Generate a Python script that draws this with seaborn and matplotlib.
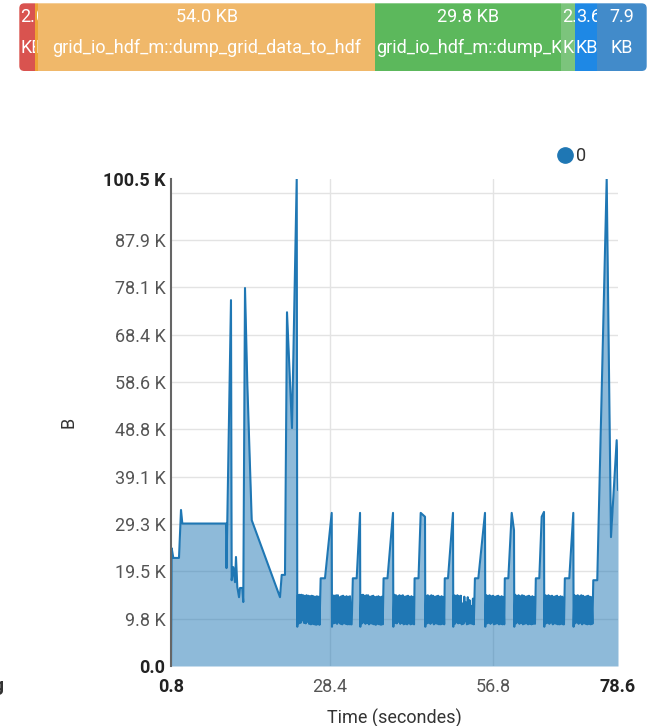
import numpy as np
import pandas as pd
import matplotlib
matplotlib.use("Agg")
import matplotlib.pyplot as plt
import seaborn as sns
from matplotlib.patches import FancyBboxPatch
from matplotlib.lines import Line2D
from matplotlib.transforms import Bbox, TransformedBbox

# ---------------- data ----------------
# memory usage over time (KiB), start-up phase
t_warmup = [0.8, 0.92, 1.20, 2.19, 2.54, 2.77, 10.37, 10.46, 11.24, 11.36, 11.64,
            11.94, 12.11, 12.34, 12.64, 12.81, 13.21, 13.38, 13.68, 14.08, 14.85,
            19.77, 20.07, 20.64, 20.99, 21.86, 22.68]
kib_warmup = [0.0, 24.3, 22.3, 22.3, 32.2, 29.4, 29.4, 20.2, 75.5, 17.7, 20.4,
              17.3, 22.5, 16.3, 14.2, 16.1, 16.1, 13.2, 78.0, 58.4, 30.1,
              14.2, 18.8, 18.8, 73.0, 49.1, 100.5]

# periodic output cycles: release, working set, staging plateau, write peak
t_steady = [
    22.78,
    22.90, 23.05, 23.20, 23.35, 23.50, 23.65, 23.80, 23.95, 24.10, 24.25, 24.40, 24.55, 24.70,
    24.85, 25.00, 25.15, 25.30, 25.45, 25.60, 25.75, 25.90, 26.05, 26.20, 26.35, 26.50, 26.65,
    26.85, 27.60, 28.77,
    28.82,
    28.95, 29.10, 29.25, 29.40, 29.55, 29.70, 29.85, 30.00, 30.15, 30.30, 30.45, 30.60,
    30.75, 30.90, 31.05, 31.20, 31.35, 31.50, 31.65, 31.80, 31.95, 32.10, 32.25,
    32.45, 33.12, 33.70,
    33.75,
    33.90, 34.05, 34.20, 34.35, 34.50, 34.65, 34.80, 34.95, 35.10, 35.25, 35.40, 35.55, 35.70,
    35.85, 36.00, 36.15, 36.30, 36.45, 36.60, 36.75, 36.90, 37.05, 37.20, 37.35, 37.50, 37.65,
    37.80, 38.48, 39.44,
    39.50,
    39.65, 39.80, 39.95, 40.10, 40.25, 40.40, 40.55, 40.70, 40.85, 41.00, 41.15, 41.30,
    41.45, 41.60, 41.75, 41.90, 42.05, 42.20, 42.35, 42.50, 42.65, 42.80, 42.95, 43.10,
    43.20, 43.88, 44.26, 45.01,
    45.06,
    45.20, 45.35, 45.50, 45.65, 45.80, 45.95, 46.10, 46.25, 46.40, 46.55, 46.70,
    46.85, 47.00, 47.15, 47.30, 47.45, 47.60, 47.75, 47.90, 48.05, 48.20, 48.35,
    48.45, 49.01, 49.88,
    49.93,
    50.05, 50.20, 50.35, 50.50, 50.65, 50.80, 50.95, 51.10, 51.25, 51.40, 51.55, 51.70,
    51.85, 52.00, 52.15, 52.30, 52.45, 52.60, 52.75, 52.90, 53.05, 53.20, 53.35, 53.50,
    53.70, 54.29, 55.45,
    55.50,
    55.65, 55.80, 55.95, 56.10, 56.25, 56.40, 56.55, 56.70, 56.85, 57.00, 57.15,
    57.30, 57.45, 57.60, 57.75, 57.90, 58.05, 58.20, 58.35, 58.50, 58.65, 58.80,
    58.90, 59.51, 60.10, 60.50,
    60.55,
    60.70, 60.85, 61.00, 61.15, 61.30, 61.45, 61.60, 61.75, 61.90, 62.05, 62.20, 62.35,
    62.50, 62.65, 62.80, 62.95, 63.10, 63.25, 63.40, 63.55, 63.70, 63.85, 64.00, 64.15,
    64.30, 64.90, 65.32, 65.72,
    65.77,
    65.90, 66.05, 66.20, 66.35, 66.50, 66.65, 66.80, 66.95, 67.10, 67.25, 67.40, 67.55,
    67.70, 67.85, 68.00, 68.15, 68.30, 68.45, 68.60, 68.75, 68.90, 69.05, 69.20,
    69.35, 70.12, 70.82,
    70.87,
    71.00, 71.15, 71.30, 71.45, 71.60, 71.75, 71.90, 72.05, 72.20, 72.35, 72.50,
    72.65, 72.80, 72.95, 73.10, 73.25, 73.40, 73.55, 73.70, 73.85, 74.00, 74.15,
    74.30, 74.99,
]
kib_steady = [
    8.1,
    14.6, 8.8, 14.7, 8.9, 14.7, 9.4, 14.6, 8.9, 14.5, 8.8, 14.6, 9.1, 14.5,
    8.7, 14.4, 8.6, 14.5, 8.7, 14.4, 8.6, 14.3, 8.5, 14.4, 8.6, 14.3, 8.5,
    18.1, 18.1, 31.6,
    8.1,
    14.6, 8.8, 14.5, 8.9, 14.6, 8.7, 14.6, 9.0, 14.2, 8.7, 14.4, 8.6,
    14.5, 8.8, 14.3, 8.7, 14.4, 8.6, 14.3, 8.6, 14.4, 8.6, 8.6,
    18.1, 18.1, 31.6,
    8.1,
    14.6, 8.8, 14.7, 9.0, 14.5, 8.7, 14.6, 8.9, 14.6, 8.6, 14.3, 8.8, 14.4,
    8.7, 14.5, 8.6, 14.2, 8.5, 14.3, 8.7, 14.4, 8.6, 14.2, 8.5, 14.3, 8.6,
    18.1, 18.1, 31.6,
    8.1,
    14.7, 8.9, 14.6, 8.8, 14.4, 9.1, 14.6, 8.7, 14.5, 8.9, 14.6, 8.6,
    14.3, 8.7, 14.4, 8.6, 14.5, 8.8, 14.3, 8.6, 14.4, 8.7, 14.2, 8.6,
    18.1, 18.1, 31.6, 30.8,
    8.1,
    14.5, 8.8, 14.6, 8.9, 14.4, 8.7, 14.6, 9.0, 14.5, 8.6, 14.3,
    8.8, 14.4, 8.7, 14.5, 8.6, 14.3, 8.6, 14.4, 8.7, 14.2, 8.6,
    18.1, 18.1, 31.6,
    8.1,
    14.6, 8.7, 14.5, 9.0, 14.6, 8.8, 14.4, 8.9, 14.5, 8.6, 12.9, 8.7,
    14.3, 9.2, 13.1, 8.6, 14.2, 8.7, 13.6, 8.8, 12.4, 8.7, 13.9, 8.6,
    18.1, 18.1, 31.6,
    8.1,
    14.6, 8.8, 14.5, 8.9, 14.6, 8.7, 14.4, 9.0, 14.5, 8.6, 14.3,
    8.7, 14.4, 8.8, 14.5, 8.6, 14.3, 8.7, 14.4, 8.6, 14.2, 8.6,
    18.1, 18.1, 31.6, 28.0,
    8.1,
    14.7, 8.8, 14.5, 9.0, 14.6, 8.7, 14.4, 8.9, 14.6, 8.6, 14.5, 8.7,
    14.3, 8.8, 14.4, 8.6, 14.5, 8.7, 14.3, 8.6, 14.4, 8.7, 14.2, 8.7,
    18.1, 18.1, 30.8, 31.8,
    8.1,
    14.6, 8.8, 14.5, 8.9, 14.6, 8.7, 14.4, 9.0, 14.5, 8.6, 14.3, 8.8,
    14.4, 8.7, 14.5, 8.6, 14.2, 8.6, 14.4, 8.7, 14.3, 8.6, 8.6,
    18.1, 18.1, 31.6,
    8.1,
    14.6, 8.8, 14.5, 9.0, 14.6, 8.7, 14.4, 8.9, 14.6, 8.6, 14.5,
    8.8, 14.3, 8.7, 14.4, 8.6, 14.5, 8.7, 14.3, 8.6, 14.2, 8.7,
    17.7, 17.7,
]

# final write burst
t_burst = [76.63, 77.38, 78.37, 78.60]
kib_burst = [100.5, 26.6, 46.6, 36.3]

# allocation summary strip (KB per call site)
seg_kb = [2.5, 0.5, 54.0, 29.8, 2.2, 3.6, 7.9]
seg_names = ["", "", "grid_io_hdf_m::dump_grid_data_to_hdf",
             "grid_io_hdf_m::dump_K_field_to_hdf", "", "", ""]
seg_colors = ["#d9534f", "#eea236", "#f0b86a", "#5cb85c", "#7cc47c", "#1e88e5", "#428bca"]

x_ticks = [0.8, 28.4, 56.8, 78.6]
series_name = "0"

# ---------------- figure ----------------
sns.set_style("white")
plt.rcParams["font.family"] = ["Roboto", "DejaVu Sans"]

W, H = 648, 726
fig = plt.figure(figsize=(W / 100, H / 100), dpi=100)

line_color = "#1f77b4"

df = pd.DataFrame({
    "t": t_warmup + t_steady + t_burst,
    "kib": kib_warmup + kib_steady + kib_burst,
})
df["bytes"] = df["kib"] * 1024

ax = fig.add_axes([171 / W, 1 - 666 / H, 447 / W, 487 / H])
sns.lineplot(data=df, x="t", y="bytes", ax=ax, color=line_color, lw=1.5,
             estimator=None, zorder=3)
ax.fill_between(df["t"], df["bytes"], color=line_color, alpha=0.5, lw=0, zorder=2)

ymax = df["bytes"].max()
ax.set_xlim(x_ticks[0], x_ticks[-1])
ax.set_ylim(0, ymax)

y_ticks = list(range(0, 100001, 10000)) + [ymax]
y_labels = []
for v in y_ticks:
    if v == 0:
        y_labels.append("0.0")
    elif v == 100000:
        y_labels.append("")
    else:
        y_labels.append(f"{v / 1024:.1f} K")
ax.set_yticks(y_ticks)
ax.set_yticklabels(y_labels)
ax.set_xticks(x_ticks)
ax.set_xticklabels([f"{v:.1f}" for v in x_ticks])

ax.tick_params(axis="both", length=0, labelsize=13, labelcolor="#555555")
ax.tick_params(axis="y", pad=4)
ax.tick_params(axis="x", pad=9)
for lbls in (ax.get_yticklabels(), ax.get_xticklabels()):
    for i in (0, len(lbls) - 1):
        lbls[i].set_fontweight("bold")
        lbls[i].set_color("#222222")

ax.set_axisbelow(True)
ax.grid(True, color="#e3e3e3", lw=1)
ygl = ax.yaxis.get_gridlines()
ygl[0].set_visible(False)
ygl[-1].set_visible(False)
xgl = ax.xaxis.get_gridlines()
xgl[0].set_visible(False)
xgl[-1].set_visible(False)

for s in ("top", "right", "bottom"):
    ax.spines[s].set_visible(False)
ax.spines["left"].set_color("#666666")
ax.spines["left"].set_linewidth(1.5)
ax.spines["left"].set_zorder(4)

ax.set_xlabel("Time (secondes)", fontsize=13, color="#333333", labelpad=9)
ax.set_ylabel("B", fontsize=13, color="#333333", labelpad=18)

fig.legend(handles=[Line2D([], [], marker="o", ls="", color=line_color, markersize=11)],
           labels=[series_name], loc="center left",
           bbox_to_anchor=(556 / W, 1 - 156 / H), frameon=False,
           handlelength=1.0, handletextpad=0.1, borderpad=0, borderaxespad=0,
           fontsize=13, labelcolor="#333333")

# partially visible label at the left edge
fig.text(3 / W, 1 - 686 / H, "g", ha="right", va="center", fontsize=14,
         fontweight="bold", color="#333333")

# ---------------- allocation strip ----------------
bx0, by0, bw, bh = 19.3, 3.3, 627.4, 67.7
bar_ax = fig.add_axes([bx0 / W, 1 - (by0 + bh) / H, bw / W, bh / H])
total = sum(seg_kb)
bar_ax.set_xlim(0, total)
bar_ax.set_ylim(0, 1)
bar_ax.axis("off")

clip = FancyBboxPatch((bx0 / 100, (H - by0 - bh) / 100), bw / 100, bh / 100,
                      boxstyle="round,pad=0,rounding_size=0.05",
                      transform=fig.dpi_scale_trans)

lefts = np.concatenate([[0], np.cumsum(seg_kb)[:-1]])
bars = bar_ax.barh(0.5, seg_kb, left=lefts, height=1.0, color=seg_colors, lw=0)
for b in bars:
    b.set_clip_path(clip)

renderer = fig.canvas.get_renderer()
px_per_kb = bw / total


def text_width(s):
    t = bar_ax.text(0, 0, s, fontsize=13)
    w = t.get_window_extent(renderer).width
    t.remove()
    return w


for left, kb, name in zip(lefts, seg_kb, seg_names):
    seg_w = kb * px_per_kb
    value = f"{kb:.1f} KB"
    if text_width(value) + 4 < seg_w:
        lines = [value, name]
    else:
        lines = [f"{kb:.1f}", "KB"]
    cbox = TransformedBbox(Bbox([[left, 0], [left + kb, 1]]), bar_ax.transData)
    for yy, s in zip((0.80, 0.34), lines):
        if not s:
            continue
        if text_width(s) + 2 < seg_w:
            x, ha = left + kb / 2, "center"
        else:
            x, ha = left + 1.0 / px_per_kb, "left"
        t = bar_ax.text(x, yy, s, ha=ha, va="center", fontsize=13, color="white")
        t.set_clip_box(cbox)
        t.set_clip_on(True)

fig.savefig("out.png", dpi=100)
